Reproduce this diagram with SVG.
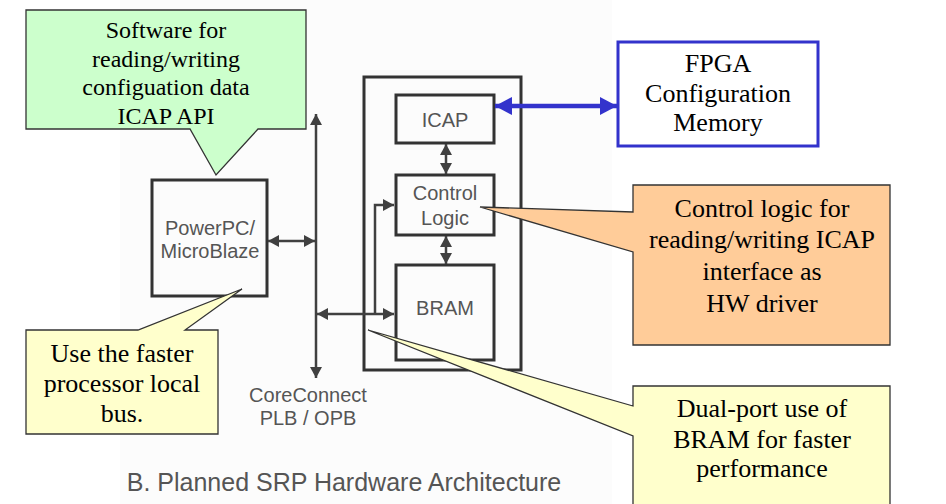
<svg xmlns="http://www.w3.org/2000/svg" width="946" height="504" viewBox="0 0 946 504">
<style>
.box{fill:none;stroke:#333;stroke-width:3}
.lbl{font-family:"Liberation Sans",Arial,sans-serif;font-size:20px;fill:#555;text-anchor:middle}
.cap{font-family:"Liberation Serif","Times New Roman",serif;fill:#000;text-anchor:middle}
.call{stroke:#333;stroke-width:1.3;stroke-linejoin:miter}
.con{stroke:#404040;stroke-width:2.5;fill:none}
</style>
<defs>
<marker id="ah" markerUnits="userSpaceOnUse" markerWidth="12" markerHeight="12" refX="11" refY="6" orient="auto-start-reverse">
<path d="M0,0 L11,6 L0,12 z" fill="#404040"/>
</marker>
<marker id="bh" markerUnits="userSpaceOnUse" markerWidth="18" markerHeight="18" refX="17" refY="9" orient="auto-start-reverse">
<path d="M0,0 L17,9 L0,18 z" fill="#3333cc"/>
</marker>
</defs>
<rect width="946" height="504" fill="#fff"/>
<rect x="120" y="0" width="492" height="504" fill="#fcfcfc"/>

<g id="powerpc">
<rect class="box" x="152" y="180" width="115" height="116"/>
<text class="lbl" x="210" y="235">PowerPC/</text>
<text class="lbl" x="210" y="258">MicroBlaze</text>
</g>
<g id="hw-core">
<rect class="box" x="364" y="77" width="157" height="293"/>
</g>
<g id="icap">
<rect class="box" x="396" y="95" width="98" height="48"/>
<text class="lbl" x="445" y="127">ICAP</text>
</g>
<g id="control-logic">
<rect class="box" x="396" y="175" width="98" height="60"/>
<text class="lbl" x="445" y="200">Control</text>
<text class="lbl" x="445" y="225">Logic</text>
</g>
<g id="bram">
<rect class="box" x="396" y="265" width="98" height="95"/>
<text class="lbl" x="445" y="315">BRAM</text>
</g>
<g id="fpga-mem">
<rect x="618" y="42" width="200" height="104" fill="#fff" stroke="#3333cc" stroke-width="3"/>
<text class="cap" font-size="26" x="718" y="72">FPGA</text>
<text class="cap" font-size="26" x="718" y="102">Configuration</text>
<text class="cap" font-size="26" x="718" y="131">Memory</text>
</g>
<g id="bus-label">
<text class="lbl" x="308" y="402">CoreConnect</text>
<text class="lbl" x="308" y="425">PLB / OPB</text>
</g>
<g id="caption">
<text class="lbl" style="font-size:25px" x="344" y="491">B. Planned SRP Hardware Architecture</text>
</g>

<g id="connectors">
<line class="con" x1="316" y1="378" x2="316" y2="114" marker-start="url(#ah)" marker-end="url(#ah)"/>
<line class="con" x1="268" y1="241" x2="315" y2="241" marker-start="url(#ah)" marker-end="url(#ah)"/>
<line class="con" x1="317" y1="314" x2="394" y2="314" marker-start="url(#ah)" marker-end="url(#ah)"/>
<polyline class="con" points="375,314 375,205 394,205" marker-end="url(#ah)"/>
<line class="con" x1="446" y1="144" x2="446" y2="174" marker-start="url(#ah)" marker-end="url(#ah)"/>
<line class="con" x1="446" y1="236" x2="446" y2="264" marker-start="url(#ah)" marker-end="url(#ah)"/>
<line x1="495" y1="106" x2="617" y2="106" stroke="#3333cc" stroke-width="4.5" marker-start="url(#bh)" marker-end="url(#bh)"/>
</g>

<g id="callout-software">
<path class="call" fill="#ccffcc" d="M26,10 H306 V129 H258 L216,175 L190,129 H26 Z"/>
<text class="cap" font-size="24" x="166" y="38">Software for</text>
<text class="cap" font-size="24" x="166" y="67">reading/writing</text>
<text class="cap" font-size="24" x="166" y="95">configuation data</text>
<text class="cap" font-size="24" x="166" y="124">ICAP API</text>
</g>
<g id="callout-bus">
<path class="call" fill="#ffffcc" d="M26,330 H138 L242,289 L185,330 H218 V434 H26 Z"/>
<text class="cap" font-size="26" x="122" y="362">Use the faster</text>
<text class="cap" font-size="26" x="122" y="392">processor local</text>
<text class="cap" font-size="26" x="122" y="422">bus.</text>
</g>
<g id="callout-control">
<path class="call" fill="#ffcc99" d="M633,185 H890 V345 H633 V252 L480,207 L633,212 Z"/>
<text class="cap" font-size="26" x="762" y="217">Control logic for</text>
<text class="cap" font-size="26" x="762" y="248">reading/writing ICAP</text>
<text class="cap" font-size="26" x="762" y="280">interface as</text>
<text class="cap" font-size="26" x="762" y="312">HW driver</text>
</g>
<g id="callout-bram">
<path class="call" fill="#ffffcc" d="M633,386 H890 V512 H633 V436 L368,330 L633,406 Z"/>
<text class="cap" font-size="26" x="762" y="417">Dual-port use of</text>
<text class="cap" font-size="26" x="762" y="448">BRAM for faster</text>
<text class="cap" font-size="26" x="762" y="477">performance</text>
</g>
</svg>
